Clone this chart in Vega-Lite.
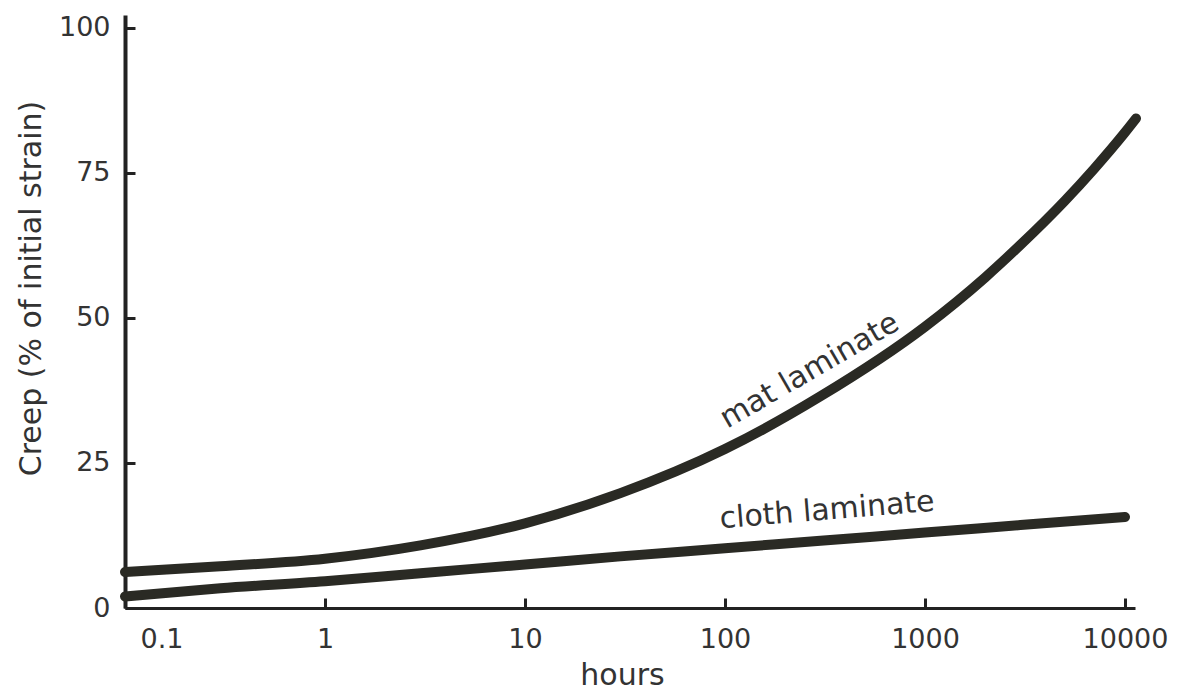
{
  "$schema": "https://vega.github.io/schema/vega-lite/v6.json",
  "width": 1010,
  "height": 593,
  "autosize": {"type": "none"},
  "padding": {"left": 125, "top": 15, "right": 42, "bottom": 82},
  "background": "white",
  "config": {
    "view": {"stroke": null},
    "font": "DejaVu Sans",
    "axis": {
      "domainColor": "#222222",
      "tickColor": "#222222",
      "labelColor": "#333333",
      "titleColor": "#333333",
      "labelFont": "DejaVu Sans",
      "titleFont": "DejaVu Sans",
      "labelFontSize": 27,
      "titleFontSize": 30,
      "titleFontWeight": "normal",
      "grid": false,
      "tickSize": -10,
      "tickWidth": 3
    }
  },
  "data": {
    "values": [
      {"series": "mat laminate", "hours": 0.1, "creep": 6.2},
      {"series": "mat laminate", "hours": 0.3, "creep": 7.2},
      {"series": "mat laminate", "hours": 1, "creep": 8.5},
      {"series": "mat laminate", "hours": 3, "creep": 10.8},
      {"series": "mat laminate", "hours": 10, "creep": 14.6},
      {"series": "mat laminate", "hours": 30, "creep": 19.8},
      {"series": "mat laminate", "hours": 100, "creep": 27.4},
      {"series": "mat laminate", "hours": 300, "creep": 36.5},
      {"series": "mat laminate", "hours": 1000, "creep": 48.5},
      {"series": "mat laminate", "hours": 2000, "creep": 57.0},
      {"series": "mat laminate", "hours": 3000, "creep": 62.6},
      {"series": "mat laminate", "hours": 5000, "creep": 70.2},
      {"series": "mat laminate", "hours": 7000, "creep": 75.7},
      {"series": "mat laminate", "hours": 10000, "creep": 82.0},
      {"series": "mat laminate", "hours": 11350, "creep": 84.4},
      {"series": "cloth laminate", "hours": 0.1, "creep": 2.0},
      {"series": "cloth laminate", "hours": 0.3, "creep": 3.4},
      {"series": "cloth laminate", "hours": 1, "creep": 4.6},
      {"series": "cloth laminate", "hours": 3, "creep": 6.0},
      {"series": "cloth laminate", "hours": 10, "creep": 7.5},
      {"series": "cloth laminate", "hours": 30, "creep": 8.9},
      {"series": "cloth laminate", "hours": 100, "creep": 10.3},
      {"series": "cloth laminate", "hours": 300, "creep": 11.6},
      {"series": "cloth laminate", "hours": 1000, "creep": 13.0},
      {"series": "cloth laminate", "hours": 3000, "creep": 14.3},
      {"series": "cloth laminate", "hours": 10000, "creep": 15.7}
    ]
  },
  "layer": [
    {
      "mark": {"type": "line", "interpolate": "monotone", "strokeWidth": 10, "strokeCap": "round", "color": "#2a2a24"},
      "encoding": {
        "x": {
          "field": "hours", "type": "quantitative",
          "scale": {"type": "log", "domain": [0.1, 11220], "nice": false},
          "axis": {
            "title": "hours",
            "values": [0.1, 1, 10, 100, 1000, 10000],
            "format": "~g",
            "domainWidth": 3,
            "labelPadding": 28,
            "labelOffset": {"condition": {"test": "datum.value < 0.5", "value": 15}, "value": 0},
            "titleX": 497,
            "titleY": 76,
            "titleBaseline": "alphabetic"
          }
        },
        "y": {
          "field": "creep", "type": "quantitative",
          "scale": {"domain": [0, 102.24], "nice": false, "zero": true},
          "axis": {
            "title": "Creep (% of initial strain)",
            "values": [0, 25, 50, 75, 100],
            "domainWidth": 4,
            "labelPadding": 25,
            "titleX": -94,
            "titleY": 273,
            "titleBaseline": "middle",
            "titleAngle": -90
          }
        },
        "detail": {"field": "series", "type": "nominal"}
      }
    },
    {
      "data": {"values": [{"hours": 265, "creep": 40.9, "label": "mat laminate"}]},
      "mark": {"type": "text", "angle": 330, "fontSize": 30, "font": "DejaVu Sans", "color": "#333333", "align": "center", "baseline": "middle"},
      "encoding": {
        "x": {"field": "hours", "type": "quantitative"},
        "y": {"field": "creep", "type": "quantitative"},
        "text": {"field": "label"}
      }
    },
    {
      "data": {"values": [{"hours": 324, "creep": 16.8, "label": "cloth laminate"}]},
      "mark": {"type": "text", "angle": 355.3, "fontSize": 30, "font": "DejaVu Sans", "color": "#333333", "align": "center", "baseline": "middle"},
      "encoding": {
        "x": {"field": "hours", "type": "quantitative"},
        "y": {"field": "creep", "type": "quantitative"},
        "text": {"field": "label"}
      }
    }
  ]
}
